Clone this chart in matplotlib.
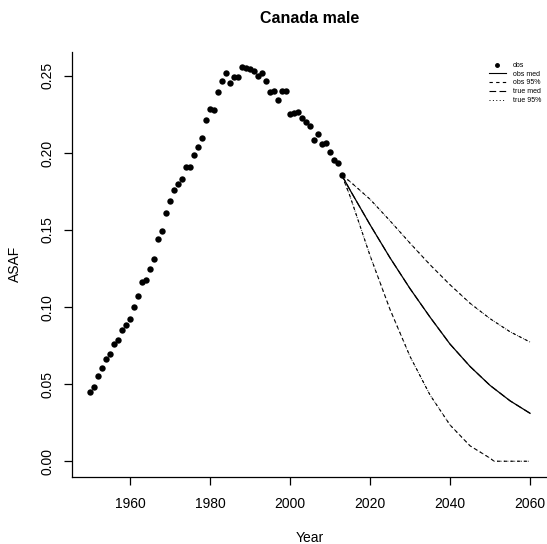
import matplotlib
matplotlib.use("Agg")
import matplotlib.pyplot as plt
from matplotlib.lines import Line2D

plt.rcParams['font.family'] = ['Liberation Sans', 'DejaVu Sans']

# observed age-standardised values, 1950-2013
obs_years = list(range(1950, 2014))
obs_vals = [
    0.0449, 0.0481, 0.0550, 0.0604, 0.0663, 0.0695, 0.0760, 0.0786, 0.0850, 0.0883,
    0.0926, 0.0999, 0.1071, 0.1161, 0.1174, 0.1248, 0.1310, 0.1444, 0.1492, 0.1608,
    0.1690, 0.1762, 0.1796, 0.1833, 0.1911, 0.1911, 0.1988, 0.2036, 0.2100, 0.2215,
    0.2288, 0.2280, 0.2396, 0.2470, 0.2522, 0.2457, 0.2496, 0.2496, 0.2556, 0.2554,
    0.2543, 0.2534, 0.2502, 0.2522, 0.2470, 0.2396, 0.2405, 0.2347, 0.2400, 0.2405,
    0.2255, 0.2262, 0.2268, 0.2228, 0.2202, 0.2172, 0.2085, 0.2122, 0.2060, 0.2064,
    0.2006, 0.1956, 0.1935, 0.1854,
]

# projections 2013-2060
proj_years = [2013, 2015, 2020, 2025, 2030, 2035, 2040, 2045, 2050, 2051, 2055, 2060]
med_vals = [0.1854, 0.1760, 0.1535, 0.1320, 0.1120, 0.0935, 0.0760, 0.0615, 0.0492, 0.0472, 0.0392, 0.0311]
upper_vals = [0.1854, 0.1815, 0.1700, 0.1560, 0.1415, 0.1275, 0.1145, 0.1025, 0.0925, 0.0908, 0.0840, 0.0773]
lower_vals = [0.1854, 0.1720, 0.1335, 0.0985, 0.0680, 0.0430, 0.0235, 0.0100, 0.0020, 0.0000, 0.0000, 0.0000]

fig = plt.figure(figsize=(5.47, 5.44), dpi=100)
ax = fig.add_axes([0.1322, 0.1232, 0.8690, 0.7820])

ax.plot(obs_years, obs_vals, 'o', color='black', markersize=4.6, markeredgewidth=0)

# observed-based projections
ax.plot(proj_years, med_vals, color='black', lw=0.9, ls='-')
ax.plot(proj_years, upper_vals, color='black', lw=0.8, ls=(0, (3, 3)))
ax.plot(proj_years, lower_vals, color='black', lw=0.8, ls=(0, (3, 3)))
# "true" projections sit on top of the observed ones
ax.plot(proj_years, med_vals, color='black', lw=0.8, ls=(0, (6, 3)))
ax.plot(proj_years, upper_vals, color='black', lw=0.7, ls=(0, (1, 2.5)), alpha=0.8)
ax.plot(proj_years, lower_vals, color='black', lw=0.7, ls=(0, (1, 2.5)), alpha=0.8)

ax.set_xlim(1945.6, 2064.4)
ax.set_ylim(-0.01022, 0.2658)
ax.set_xticks([1960, 1980, 2000, 2020, 2040, 2060])
ax.set_yticks([0.00, 0.05, 0.10, 0.15, 0.20, 0.25])
ax.set_yticklabels(['0.00', '0.05', '0.10', '0.15', '0.20', '0.25'], rotation=90, va='center')

for s in ['top', 'right']:
    ax.spines[s].set_visible(False)
for s in ['left', 'bottom']:
    ax.spines[s].set_linewidth(0.9)
ax.tick_params(length=5.5, width=0.9, labelsize=10, pad=9)
ax.tick_params(axis='y', pad=7)

ax.set_xlabel('Year', fontsize=10, labelpad=14)
ax.set_ylabel('ASAF', fontsize=10, labelpad=14)
ax.set_title('Canada male', fontsize=11.5, fontweight='bold', pad=20.5)

handles = [
    Line2D([], [], ls='none', marker='o', color='black', markersize=2.5),
    Line2D([], [], color='black', lw=0.8, ls='-'),
    Line2D([], [], color='black', lw=0.8, ls=(0, (3, 3))),
    Line2D([], [], color='black', lw=0.8, ls=(0, (6, 3))),
    Line2D([], [], color='black', lw=0.7, ls=(0, (1, 2.5))),
]
labels = ['obs', 'obs med', 'obs 95%', 'true med', 'true 95%']
fig.legend(handles, labels, loc='upper left', bbox_to_anchor=(489 / 547, 1 - 62 / 544),
           frameon=False, fontsize=5, handlelength=2.4, handletextpad=1.0,
           labelspacing=0.25, borderaxespad=0, borderpad=0)

fig.savefig('out.png', dpi=100)
